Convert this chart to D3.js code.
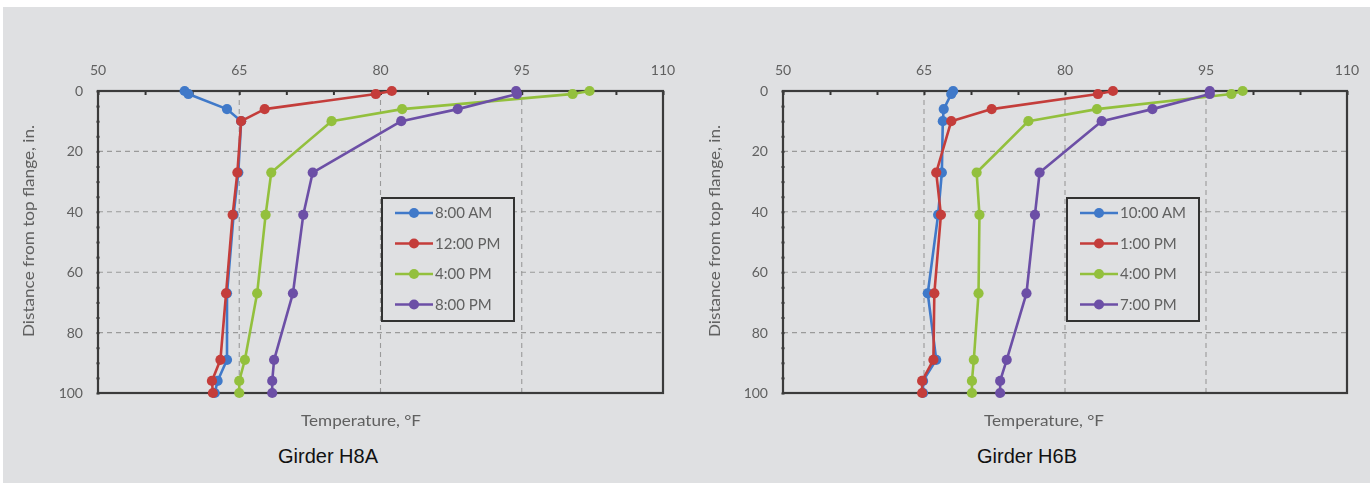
<!DOCTYPE html>
<html>
<head>
<meta charset="utf-8">
<script src="https://cdn.jsdelivr.net/npm/d3@7"></script>
<style>
  html, body { margin: 0; padding: 0; background: #ffffff; }
  svg { display: block; }
</style>
</head>
<body>
<svg id="chart" width="1372" height="483"></svg>
<script>
// Depth below the top flange (in.) at which each temperature was recorded
const depths = [0, 1, 6, 10, 27, 41, 67, 89, 96, 100];

// Girder H8A temperature profiles (°F)
const h8aTimes = ["8:00 AM", "12:00 PM", "4:00 PM", "8:00 PM"];
const h8a0800 = [59.2, 59.6, 63.7, 65.2, 64.9, 64.4, 63.7, 63.7, 62.7, 62.4];
const h8a1200 = [81.2, 79.5, 67.7, 65.2, 64.8, 64.3, 63.6, 63.0, 62.1, 62.2];
const h8a1600 = [102.2, 100.4, 82.3, 74.8, 68.4, 67.8, 66.9, 65.6, 65.0, 65.0];
const h8a2000 = [94.4, 94.5, 88.2, 82.2, 72.8, 71.8, 70.7, 68.7, 68.5, 68.5];

// Girder H6B temperature profiles (°F)
const h6bTimes = ["10:00 AM", "1:00 PM", "4:00 PM", "7:00 PM"];
const h6b1000 = [68.1, 67.9, 67.1, 67.0, 66.9, 66.5, 65.4, 66.3, 64.9, 64.9];
const h6b1300 = [85.1, 83.5, 72.2, 67.9, 66.3, 66.8, 66.1, 66.0, 64.8, 64.8];
const h6b1600 = [98.9, 97.7, 83.4, 76.1, 70.6, 70.9, 70.8, 70.3, 70.1, 70.1];
const h6b1900 = [95.4, 95.4, 89.3, 83.9, 77.3, 76.8, 75.9, 73.8, 73.1, 73.1];

// Axis ticks
const tempLabels = [50, 65, 80, 95, 110];
const tempMinor = d3.range(50, 111, 5);
const depthLabels = [0, 20, 40, 60, 80, 100];
const depthMinor = d3.range(0, 101, 5);
const tempGrid = [65, 80, 95];
const depthGrid = [20, 40, 60, 80];

const seriesColors = ["#3f79c9", "#c43d3a", "#93c03e", "#6c4fa6"];

const svg = d3.select("#chart");

// light gray page panel
svg.append("rect").attr("x", 3).attr("y", 7).attr("width", 1367).attr("height", 476)
  .attr("fill", "#dfe0e2");

const defs = svg.append("defs");
defs.append("filter").attr("id", "soft")
  .attr("x", "-5%").attr("y", "-5%").attr("width", "110%").attr("height", "110%")
  .append("feGaussianBlur").attr("stdDeviation", 0.6);

const panels = [
  { left: 98, right: 663, legX: 382, legY: 198, times: h8aTimes,
    series: [h8a0800, h8a1200, h8a1600, h8a2000], title: "Girder H8A",
    titleX: 328, axisTitleX: 361, yTitleX: 34 },
  { left: 783, right: 1347, legX: 1067, legY: 198, times: h6bTimes,
    series: [h6b1000, h6b1300, h6b1600, h6b1900], title: "Girder H6B",
    titleX: 1027, axisTitleX: 1044, yTitleX: 720 }
];

const plotTop = 91, plotBottom = 393;
const axisFont = "Lato, 'Open Sans', sans-serif";
const textGray = "#606060";

panels.forEach(p => {
  const x = d3.scaleLinear().domain([50, 110]).range([p.left, p.right]);
  const y = d3.scaleLinear().domain([0, 100]).range([plotTop, plotBottom]);

  const g = svg.append("g").attr("filter", "url(#soft)");

  // dashed gridlines
  g.append("g").selectAll("line").data(depthGrid).join("line")
    .attr("x1", p.left).attr("x2", p.right)
    .attr("y1", d => y(d)).attr("y2", d => y(d))
    .attr("stroke", "#9a9a9a").attr("stroke-width", 1.1).attr("stroke-dasharray", "5,4");
  g.append("g").selectAll("line").data(tempGrid).join("line")
    .attr("x1", d => x(d)).attr("x2", d => x(d))
    .attr("y1", plotTop).attr("y2", plotBottom)
    .attr("stroke", "#9a9a9a").attr("stroke-width", 1.1).attr("stroke-dasharray", "5,4");

  // top temperature axis
  const xAxis = d3.axisTop(x).tickValues(tempMinor).tickSize(-4).tickFormat("");
  g.append("g").attr("transform", `translate(0,${plotTop})`).call(xAxis)
    .call(a => a.select(".domain").remove())
    .call(a => a.selectAll("line").attr("stroke", "#333").attr("stroke-width", 2));
  g.append("g").selectAll("text").data(tempLabels).join("text")
    .attr("x", d => x(d)).attr("y", plotTop - 16)
    .attr("text-anchor", "middle").attr("font-family", axisFont)
    .attr("font-size", 14).attr("fill", textGray).text(d => d);

  // left depth axis
  const yAxis = d3.axisLeft(y).tickValues(depthMinor).tickSize(3).tickFormat("");
  g.append("g").attr("transform", `translate(${p.left + 1.5},0)`).call(yAxis)
    .call(a => a.select(".domain").remove())
    .call(a => a.selectAll("line").attr("stroke", "#333").attr("stroke-width", 2));
  g.append("g").selectAll("text").data(depthLabels).join("text")
    .attr("x", p.left - 15).attr("y", d => y(d)).attr("dy", "0.35em")
    .attr("text-anchor", "end").attr("font-family", axisFont)
    .attr("font-size", 14).attr("fill", textGray).text(d => d);

  // plot frame
  g.append("rect").attr("x", p.left).attr("y", plotTop)
    .attr("width", p.right - p.left).attr("height", plotBottom - plotTop)
    .attr("fill", "none").attr("stroke", "#3a3a3a").attr("stroke-width", 2.2);

  // axis titles
  g.append("text").attr("x", p.axisTitleX).attr("y", 426)
    .attr("text-anchor", "middle").attr("font-family", axisFont)
    .attr("font-size", 15).attr("fill", textGray)
    .attr("textLength", 120).attr("lengthAdjust", "spacingAndGlyphs")
    .text("Temperature, °F");
  g.append("text")
    .attr("transform", `translate(${p.yTitleX},${231}) rotate(-90)`)
    .attr("text-anchor", "middle").attr("font-family", axisFont)
    .attr("font-size", 15).attr("fill", textGray)
    .attr("textLength", 212).attr("lengthAdjust", "spacingAndGlyphs")
    .text("Distance from top flange, in.");

  // profiles
  const line = d3.line().x(d => x(d[0])).y(d => y(d[1]));
  p.series.forEach((vals, i) => {
    const pts = vals.map((v, k) => [v, depths[k]]);
    const sg = g.append("g");
    sg.append("path").datum(pts).attr("d", line)
      .attr("fill", "none").attr("stroke", seriesColors[i]).attr("stroke-width", 2.6)
      .attr("stroke-linejoin", "round");
    sg.selectAll("circle").data(pts).join("circle")
      .attr("cx", d => x(d[0])).attr("cy", d => y(d[1])).attr("r", 5.1)
      .attr("fill", seriesColors[i]);
  });

  // legend
  const lw = 132, lh = 123;
  const lg = g.append("g").attr("transform", `translate(${p.legX},${p.legY})`);
  lg.append("rect").attr("width", lw).attr("height", lh)
    .attr("fill", "#dfe0e2").attr("stroke", "#333").attr("stroke-width", 2);
  p.times.forEach((t, i) => {
    const ly = 15 + i * 30.5;
    lg.append("line").attr("x1", 13).attr("x2", 51).attr("y1", ly).attr("y2", ly)
      .attr("stroke", seriesColors[i]).attr("stroke-width", 2.6);
    lg.append("circle").attr("cx", 32).attr("cy", ly).attr("r", 5).attr("fill", seriesColors[i]);
    lg.append("text").attr("x", 53).attr("y", ly).attr("dy", "0.36em")
      .attr("font-family", axisFont).attr("font-size", 15).attr("fill", textGray).text(t);
  });

  // caption under each chart
  svg.append("text").attr("x", p.titleX).attr("y", 463)
    .attr("text-anchor", "middle")
    .attr("font-family", "'Liberation Sans', Arial, sans-serif")
    .attr("font-size", 20).attr("fill", "#111").text(p.title);
});
</script>
</body>
</html>
